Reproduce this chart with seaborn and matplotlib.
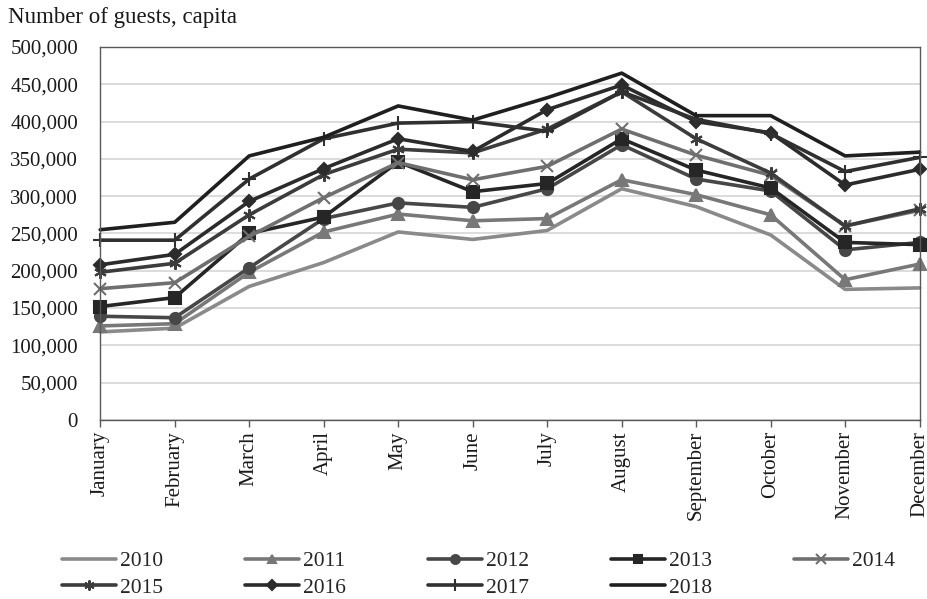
import numpy as np
import pandas as pd
import seaborn as sns
import matplotlib.pyplot as plt
from matplotlib.ticker import FuncFormatter

# Monthly guest numbers
months = ["January", "February", "March", "April", "May", "June", "July",
          "August", "September", "October", "November", "December"]
g2010 = [118000, 123000, 179000, 211000, 252000, 242000, 254000, 310000, 286000, 248000, 175000, 177000]
g2011 = [126000, 129000, 198000, 252000, 276000, 267000, 270000, 322000, 302000, 275000, 188000, 209000]
g2012 = [139000, 137000, 204000, 270000, 291000, 285000, 310000, 369000, 323000, 307000, 228000, 238000]
g2013 = [152000, 164000, 250000, 272000, 346000, 306000, 317000, 377000, 335000, 311000, 238000, 235000]
g2014 = [176000, 184000, 246000, 298000, 345000, 322000, 340000, 390000, 355000, 328000, 260000, 281000]
g2015 = [198000, 210000, 275000, 329000, 363000, 358000, 390000, 440000, 377000, 331000, 260000, 283000]
g2016 = [208000, 222000, 293000, 337000, 377000, 360000, 416000, 449000, 400000, 385000, 315000, 336000]
g2017 = [241000, 241000, 323000, 377000, 398000, 400000, 387000, 440000, 403000, 384000, 333000, 352000]
g2018 = [255000, 265000, 354000, 379000, 421000, 402000, 432000, 465000, 408000, 408000, 354000, 359000]

years = ["2010", "2011", "2012", "2013", "2014", "2015", "2016", "2017", "2018"]
series = [g2010, g2011, g2012, g2013, g2014, g2015, g2016, g2017, g2018]

colors = ["#8a8a8a", "#787878", "#474747", "#262626", "#6f6f6f",
          "#3c3c3c", "#2b2b2b", "#303030", "#1f1f1f"]
markers = [None, "^", "o", "s", "x", (6, 2, 0), "D", "+", None]
msizes = [0, 8, 8, 8, 9, 9, 6, 10, 0]

sns.set_style("white")
plt.rcParams["font.family"] = ["Liberation Serif", "DejaVu Serif"]

fig = plt.figure(figsize=(9.28, 5.99), dpi=100)
ax = fig.add_axes([0.108, 0.299, 0.883, 0.6225])

for yr, vals, c, m, ms in zip(years, series, colors, markers, msizes):
    df = pd.DataFrame({"month": months, "guests": vals})
    kw = dict(marker=m, markersize=ms, markeredgecolor=c, markerfacecolor=c,
              markeredgewidth=1.5) if m is not None else dict(marker=None)
    sns.lineplot(data=df, x="month", y="guests", sort=False, color=c,
                 linewidth=2.6, label=yr, ax=ax, clip_on=False, **kw)

ax.set_xlim(0, 11)
ax.set_ylim(0, 500000)
ax.set_yticks(np.arange(0, 500001, 50000))
ax.yaxis.set_major_formatter(FuncFormatter(lambda v, p: f"{int(v):,}"))
ax.yaxis.grid(True, color="#d9d9d9", linewidth=1.3)
ax.set_axisbelow(True)
ax.set_xlabel("")
ax.set_ylabel("")

for s in ax.spines.values():
    s.set_color("#595959")
    s.set_linewidth(1.0)

ax.tick_params(axis="y", length=0, pad=16, labelsize=15, labelcolor="#1a1a1a")
ax.tick_params(axis="x", length=5, width=1, color="#595959", pad=3,
               labelsize=15, labelcolor="#1a1a1a", bottom=True)
plt.setp(ax.get_xticklabels(), rotation=90, va="top", ha="center")

fig.text(8 / 928, 1 - 18 / 599, "Number of guests, capita", fontsize=16.5,
         va="center", ha="left", color="#1a1a1a")

# legend laid out row-wise in 5 columns
handles, labels = ax.get_legend_handles_labels()
ax.get_legend().remove()
order = [0, 5, 1, 6, 2, 7, 3, 8, 4]
fig.legend([handles[i] for i in order], [labels[i] for i in order],
           loc="upper left", bbox_to_anchor=(62 / 928, 1 - 551 / 599),
           ncol=5, frameon=False, fontsize=15.5, handlelength=2.5,
           handletextpad=0.2, columnspacing=3.8, labelspacing=0.3,
           markerscale=0.8, borderpad=0, borderaxespad=0)

fig.savefig("out.png", dpi=100)
